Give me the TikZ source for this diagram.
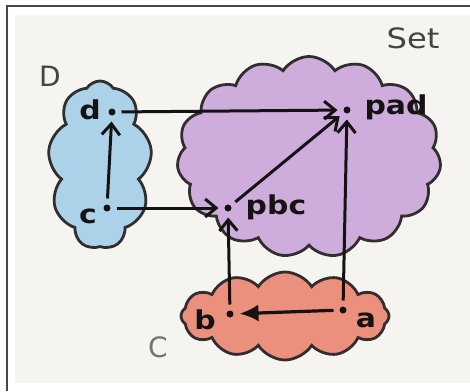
\documentclass[tikz,border=0pt]{standalone}
\usepackage{fontspec}
\usepackage{graphicx}
\setmainfont{DejaVu Sans}
\usetikzlibrary{shapes.symbols,arrows.meta}
\definecolor{paper}{RGB}{245,244,241}
\definecolor{ink}{RGB}{20,18,18}
\definecolor{edge}{RGB}{50,46,46}
\definecolor{framec}{RGB}{70,70,70}
\definecolor{blueC}{RGB}{172,210,234}
\definecolor{purpleC}{RGB}{206,172,220}
\definecolor{redC}{RGB}{234,144,124}
\definecolor{grayink}{RGB}{70,66,66}
\tikzset{
  blob/.style={cloud, draw=edge, line width=2.8pt, cloud puff arc=115, inner sep=0pt},
  pt/.style={circle, fill=ink, inner sep=0pt, minimum size=7pt, outer sep=6pt},
  lbl/.style={font=\fontsize{26}{26}\selectfont\bfseries, text=ink, inner sep=0pt},
  cat/.style={font=\fontsize{28}{28}\selectfont, text=grayink, inner sep=0pt},
  arr/.style={draw=ink, line width=3pt, -{Straight Barb[length=11pt,width=18pt,line width=3pt]}},
  barr/.style={draw=ink, line width=3.2pt, -{Latex[length=19pt,width=17pt]}}
}
\newcommand{\wide}[1]{\scalebox{1.15}[1]{#1}}
\begin{document}
\begin{tikzpicture}[x=1pt,y=-1pt]
\useasboundingbox (0,0) rectangle (470,391);
\fill[white] (0,0) rectangle (470,391);
\fill[paper] (15,15) rectangle (470,383);
\draw[framec, line width=1.5pt] (7,391) -- (7,6) -- (470,6);
% clouds
\node[blob, fill=purpleC, cloud puffs=15, minimum width=264pt, minimum height=201pt] (Set) at (309,157) {};
\node[blob, fill=blueC, cloud puffs=9, minimum width=104pt, minimum height=168pt] (Dc) at (100,165) {};
\node[blob, fill=redC, cloud puffs=12, minimum width=208pt, minimum height=88pt] (Cc) at (285,316) {};
% category labels
\node[cat] (Dl) at (50,76) {D};
\node[cat, text=gray!90!black] (Cl) at (158,347) {C};
\node[cat] (Sl) at (413,38) {\wide{Set}};
% points
\node[pt] (d) at (112,112) {};
\node[pt] (c) at (107,208) {};
\node[pt] (pad) at (347,110) {};
\node[pt] (pbc) at (228,208) {};
\node[pt] (b) at (230,314) {};
\node[pt] (a) at (343,310) {};
% point labels
\node[lbl] (dl) at (90,110) {\wide{d}};
\node[lbl] (cl) at (88,216) {\wide{c}};
\node[lbl] (padl) at (396,107) {\wide{pad}};
\node[lbl] (pbcl) at (276,207) {\wide{pbc}};
\node[lbl] (bl) at (205,320) {\wide{b}};
\node[lbl] (al) at (366,320) {\wide{a}};
% arrows
\draw[arr] (d) -- (pad);
\draw[arr] (c) -- (d);
\draw[arr] (c) -- (pbc);
\draw[arr] (pbc) -- (pad);
\draw[arr] (b) -- (pbc);
\draw[arr] (a) -- (pad);
\draw[barr] (a) -- (b);
\end{tikzpicture}
\end{document}
